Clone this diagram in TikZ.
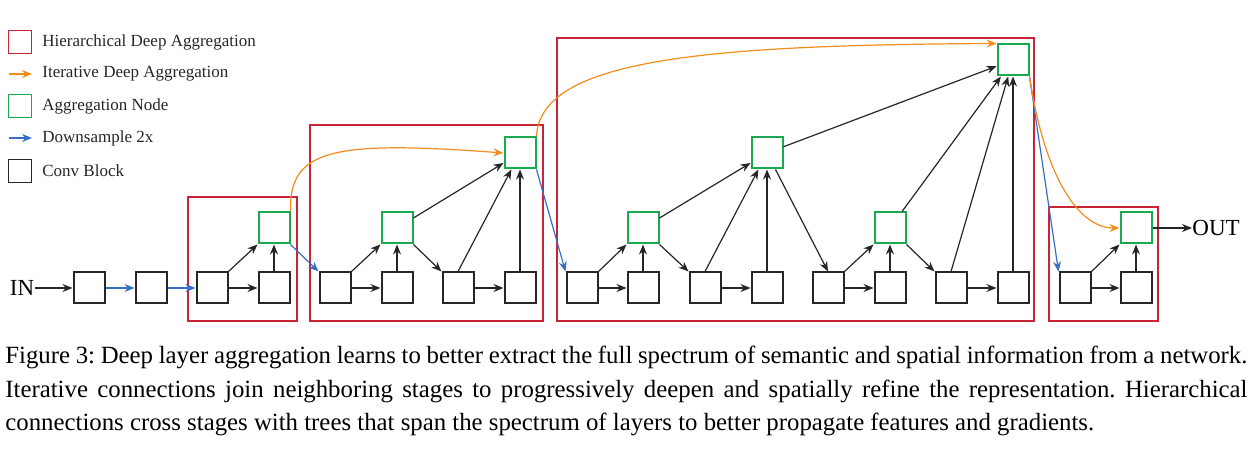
\documentclass[tikz,border=0pt]{standalone}
\usepackage{fontspec}
\setmainfont{Liberation Serif}
\usetikzlibrary{arrows.meta}
\definecolor{hred}{RGB}{200,35,55}
\definecolor{iorange}{RGB}{245,140,30}
\definecolor{agreen}{RGB}{25,170,80}
\definecolor{dblue}{RGB}{55,110,200}
\begin{document}
\frenchspacing
\begin{tikzpicture}[x=0.5pt,y=-0.5pt,
  conv/.style={draw=black!85,line width=1pt,minimum size=15.5pt,inner sep=0pt},
  agg/.style={draw=agreen,line width=1pt,minimum size=15.5pt,inner sep=0pt},
  hda/.style={draw=hred,line width=0.7pt},
  e/.style={draw=black!85,line width=0.6pt,-{Stealth[length=5pt,width=4pt]}},
  ds/.style={draw=dblue,line width=0.6pt,-{Stealth[length=5pt,width=4pt]}},
  ida/.style={draw=iorange,line width=0.6pt,-{Stealth[length=5pt,width=4pt]}},
  lg/.style={anchor=west,font=\fontsize{8.5pt}{9pt}\selectfont,text=black!85,inner sep=0pt},
  io/.style={font=\fontsize{11.5pt}{12pt}\selectfont,inner sep=0pt},
  captext/.style={anchor=west,inner sep=0pt,font=\fontsize{12.4pt}{14pt}\selectfont}]
\useasboundingbox (0,0) rectangle (1251,458);
% legend
\node[draw=hred,line width=0.8pt,minimum size=11.5pt,inner sep=0pt] (l1) at (20,42) {};
\node[lg] (t1) at (42,42) {Hierarchical Deep Aggregation};
\coordinate (l2a) at (9,74); \coordinate (l2b) at (32,74);
\draw[ida] (l2a) -- (l2b);
\node[lg] (t2) at (42,74) {Iterative Deep Aggregation};
\node[draw=agreen,line width=0.8pt,minimum size=11.5pt,inner sep=0pt] (l3) at (20,106) {};
\node[lg] (t3) at (42,106) {Aggregation Node};
\coordinate (l4a) at (9,138); \coordinate (l4b) at (32,138);
\draw[ds] (l4a) -- (l4b);
\node[lg] (t4) at (42,138) {Downsample 2x};
\node[draw=black!85,line width=0.8pt,minimum size=11.5pt,inner sep=0pt] (l5) at (20,171) {};
\node[lg] (t5) at (42,171) {Conv Block};
% HDA boxes
\draw[hda] (188,197) rectangle (297,321);
\draw[hda] (310,125) rectangle (543,321);
\draw[hda] (557,38) rectangle (1034,321);
\draw[hda] (1049,207) rectangle (1158,321);
% nodes
\node[io] (in) at (22,288) {IN};
\node[conv] (c1) at (89,288) {};
\node[conv] (c2) at (151,288) {};
\node[conv] (a1) at (212,288) {};
\node[conv] (a2) at (274,288) {};
\node[agg] (ag) at (274,228) {};
\node[conv] (b1) at (335,288) {};
\node[conv] (b2) at (397,288) {};
\node[agg] (bg) at (397,228) {};
\node[conv] (b3) at (458,288) {};
\node[conv] (b4) at (520,288) {};
\node[agg] (bG) at (520,153) {};
\node[conv] (d1) at (582,288) {};
\node[conv] (d2) at (643,288) {};
\node[agg] (dg1) at (643,228) {};
\node[conv] (d3) at (705,288) {};
\node[conv] (d4) at (767,288) {};
\node[agg] (dg2) at (767,153) {};
\node[conv] (d5) at (828,288) {};
\node[conv] (d6) at (890,288) {};
\node[agg] (dg3) at (890,228) {};
\node[conv] (d7) at (951,288) {};
\node[conv] (d8) at (1013,288) {};
\node[agg] (dG) at (1013,60) {};
\node[conv] (f1) at (1075,288) {};
\node[conv] (f2) at (1136,288) {};
\node[agg] (fg) at (1136,228) {};
\node[io,anchor=west] (out) at (1192,228) {OUT};
% edges
\draw[e] (in) -- (c1);
\draw[ds] (c1) -- (c2);
\draw[ds] (c2) -- (a1);
\draw[e] (a1) -- (a2); \draw[e] (a1.north east) -- (ag.south west); \draw[e] (a2) -- (ag);
\draw[ds] (ag.south east) -- (b1.north west);
\draw[e] (b1) -- (b2); \draw[e] (b1.north east) -- (bg.south west); \draw[e] (b2) -- (bg);
\draw[e] (bg.south east) -- (b3.north west); \draw[e] (b3) -- (b4); \draw[e] (b3.north) -- (bG); \draw[e] (b4) -- (bG); \draw[e] (bg) -- (bG);
\draw[ds] (bG.south east) -- (d1.north west);
\draw[e] (d1) -- (d2); \draw[e] (d1.north east) -- (dg1.south west); \draw[e] (d2) -- (dg1);
\draw[e] (dg1.south east) -- (d3.north west); \draw[e] (d3) -- (d4); \draw[e] (d3.north) -- (dg2); \draw[e] (d4) -- (dg2); \draw[e] (dg1) -- (dg2);
\draw[e] (dg2) -- (d5.north); \draw[e] (d5) -- (d6); \draw[e] (d5.north east) -- (dg3.south west); \draw[e] (d6) -- (dg3);
\draw[e] (dg3.south east) -- (d7.north west); \draw[e] (d7) -- (d8);
\draw[e] (d7.north) -- (dG); \draw[e] (d8) -- (dG); \draw[e] (dg3) -- (dG); \draw[e] (dg2) -- (dG);
\draw[ds] (dG.south east) -- (f1.north west);
\draw[e] (f1) -- (f2); \draw[e] (f1.north east) -- (fg.south west); \draw[e] (f2) -- (fg);
\draw[e] (fg) -- (out);
% iterative
\draw[ida] (ag.north east) .. controls (289,150) and (330,140) .. (bG.west);
\draw[ida] (bG.north east) .. controls (540,60) and (700,45) .. (dG.north west);
\draw[ida] (dG.south east) .. controls (1045,180) and (1080,228) .. (fg.west);
% caption
\node[captext] (cap1) at (5,357) {\makebox[621pt][s]{Figure 3: Deep layer aggregation learns to better extract the full spectrum of semantic and spatial information from a network.}};
\node[captext] (cap2) at (5,391) {\makebox[621pt][s]{Iterative connections join neighboring stages to progressively deepen and spatially refine the representation. Hierarchical}};
\node[captext] (cap3) at (5,424) {connections cross stages with trees that span the spectrum of layers to better propagate features and gradients.};
\end{tikzpicture}
\end{document}
